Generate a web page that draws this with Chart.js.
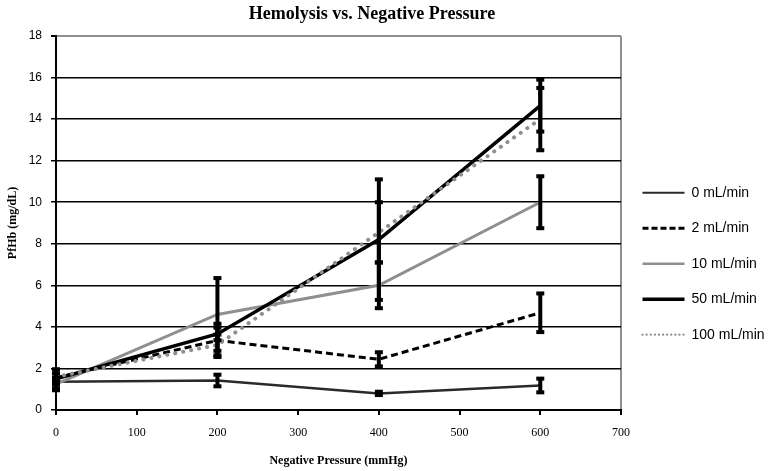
<!DOCTYPE html>
<html>
<head>
<meta charset="utf-8">
<script src="https://cdn.jsdelivr.net/npm/chart.js@4/dist/chart.umd.min.js"></script>
<style>
  body { margin: 0; background: #fff; }
  #wrap { width: 769px; height: 471px; }
</style>
</head>
<body>
<div id="wrap"><canvas id="c"></canvas></div>
<script>
// negative pressure (mmHg) and PfHb (mg/dL) per flow rate
const pressure = [0, 200, 400, 600];
const flowLabels = ['0 mL/min', '2 mL/min', '10 mL/min', '50 mL/min', '100 mL/min'];
const hb0   = [1.36, 1.42, 0.80, 1.18];
const hb2   = [1.55, 3.35, 2.44, 4.68];
const hb10  = [1.25, 4.60, 6.00, 10.00];
const hb50  = [1.50, 3.66, 8.20, 14.65];
const hb100 = [1.60, 3.13, 8.55, 14.00];
// error bar half-widths
const err0   = [0.10, 0.28, 0.08, 0.33];
const err2   = [0.20, 0.80, 0.34, 0.93];
const err10  = [0.30, 1.75, 1.10, 1.25];
const err50  = [0.45, 0.30, 2.90, 1.25];
const err100 = [0.35, 0.50, 1.45, 1.50];

const GRAY = '#8f8f8f';
const serif = "'Liberation Serif', 'Times New Roman', serif";
const sans = "'Liberation Sans', Arial, sans-serif";

function pts(vals) { return pressure.map((p, i) => ({ x: p, y: vals[i] })); }

function mkSet(i, vals, errs, color, width, dash, cap, legW, legDash) {
  return {
    label: flowLabels[i], data: pts(vals), errors: errs,
    borderColor: color, backgroundColor: color, borderWidth: width,
    borderDash: dash, borderCapStyle: cap || 'butt',
    legendWidth: legW, legendDash: legDash || dash,
    pointRadius: 0, tension: 0, fill: false, order: 5 - i
  };
}

// black error bars with square caps
const errorBars = {
  id: 'errorBars',
  afterDatasetsDraw(chart) {
    const { ctx, scales: { x, y } } = chart;
    ctx.save();
    ctx.strokeStyle = '#000';
    ctx.fillStyle = '#000';
    ctx.lineWidth = 4;
    chart.data.datasets.forEach(ds => {
      ds.data.forEach((p, i) => {
        const e = ds.errors[i];
        const px = x.getPixelForValue(p.x);
        const top = y.getPixelForValue(p.y + e);
        const bot = y.getPixelForValue(p.y - e);
        ctx.beginPath();
        ctx.moveTo(px, top);
        ctx.lineTo(px, bot);
        ctx.stroke();
        ctx.fillRect(px - 4, top - 2, 8, 4);
        ctx.fillRect(px - 4, bot - 2, 8, 4);
      });
    });
    ctx.restore();
  }
};

new Chart(document.getElementById('c'), {
  type: 'line',
  data: {
    datasets: [
      mkSet(0, hb0, err0, '#2a2a2a', 2.5, [], 'butt', 2),
      mkSet(1, hb2, err2, '#000', 3, [7, 4], 'butt', 3, [6, 3]),
      mkSet(2, hb10, err10, GRAY, 3, [], 'butt', 2.5),
      mkSet(3, hb50, err50, '#000', 3.5, [], 'butt', 3.5),
      mkSet(4, hb100, err100, GRAY, 4, [0.1, 8], 'round', 2.2, [0.1, 4])
    ]
  },
  options: {
    responsive: true,
    maintainAspectRatio: false,
    animation: false,
    layout: { padding: { left: -25, right: 0, top: 0, bottom: 0 } },
    plugins: {
      title: {
        display: true, text: 'Hemolysis vs. Negative Pressure', color: '#000',
        font: { family: serif, size: 18, weight: 'bold' },
        padding: { top: 4, bottom: 10.4 }
      },
      legend: {
        position: 'right', maxWidth: 148,
        title: { display: true, text: ' ', padding: 21 },
        labels: {
          usePointStyle: true, pointStyle: 'line', pointStyleWidth: 42,
          padding: 21.5, color: '#000', font: { family: sans, size: 14 },
          generateLabels: chart => chart.data.datasets.map((ds, i) => ({
            text: ds.label, datasetIndex: i, hidden: false,
            strokeStyle: ds.borderColor, fillStyle: ds.borderColor,
            lineWidth: ds.legendWidth, lineDash: ds.legendDash,
            lineCap: ds.borderCapStyle, pointStyle: 'line', fontColor: '#000'
          }))
        }
      },
      tooltip: { enabled: false }
    },
    scales: {
      x: {
        type: 'linear', min: 0, max: 700,
        ticks: { stepSize: 100, color: '#000', padding: 11, font: { family: serif, size: 12 } },
        grid: {
          color: c => c.tick && c.tick.value === 700 ? GRAY : 'rgba(0,0,0,0)',
          lineWidth: 2, tickColor: '#000', tickLength: 5
        },
        border: { color: '#000', width: 2 },
        title: {
          display: true, text: 'Negative Pressure (mmHg)', color: '#000',
          font: { family: serif, size: 12, weight: 'bold' }, padding: { top: 0, bottom: 2.8 }
        },
        afterFit: s => { s.height = 61; }
      },
      y: {
        min: 0, max: 18,
        ticks: { stepSize: 2, color: '#000', padding: 9, font: { family: sans, size: 12 } },
        grid: {
          color: c => c.tick && c.tick.value === 18 ? GRAY : '#000',
          lineWidth: c => c.tick && c.tick.value === 18 ? 2 : 1.5,
          tickColor: '#000', tickLength: 5
        },
        border: { color: '#000', width: 2 },
        title: {
          display: true, text: 'PfHb (mg/dL)', color: '#000',
          font: { family: serif, size: 12, weight: 'bold' }, padding: { top: 31, bottom: 0 }
        },
        afterFit: s => { s.width = 81; }
      }
    }
  },
  plugins: [errorBars]
});
</script>
</body>
</html>
